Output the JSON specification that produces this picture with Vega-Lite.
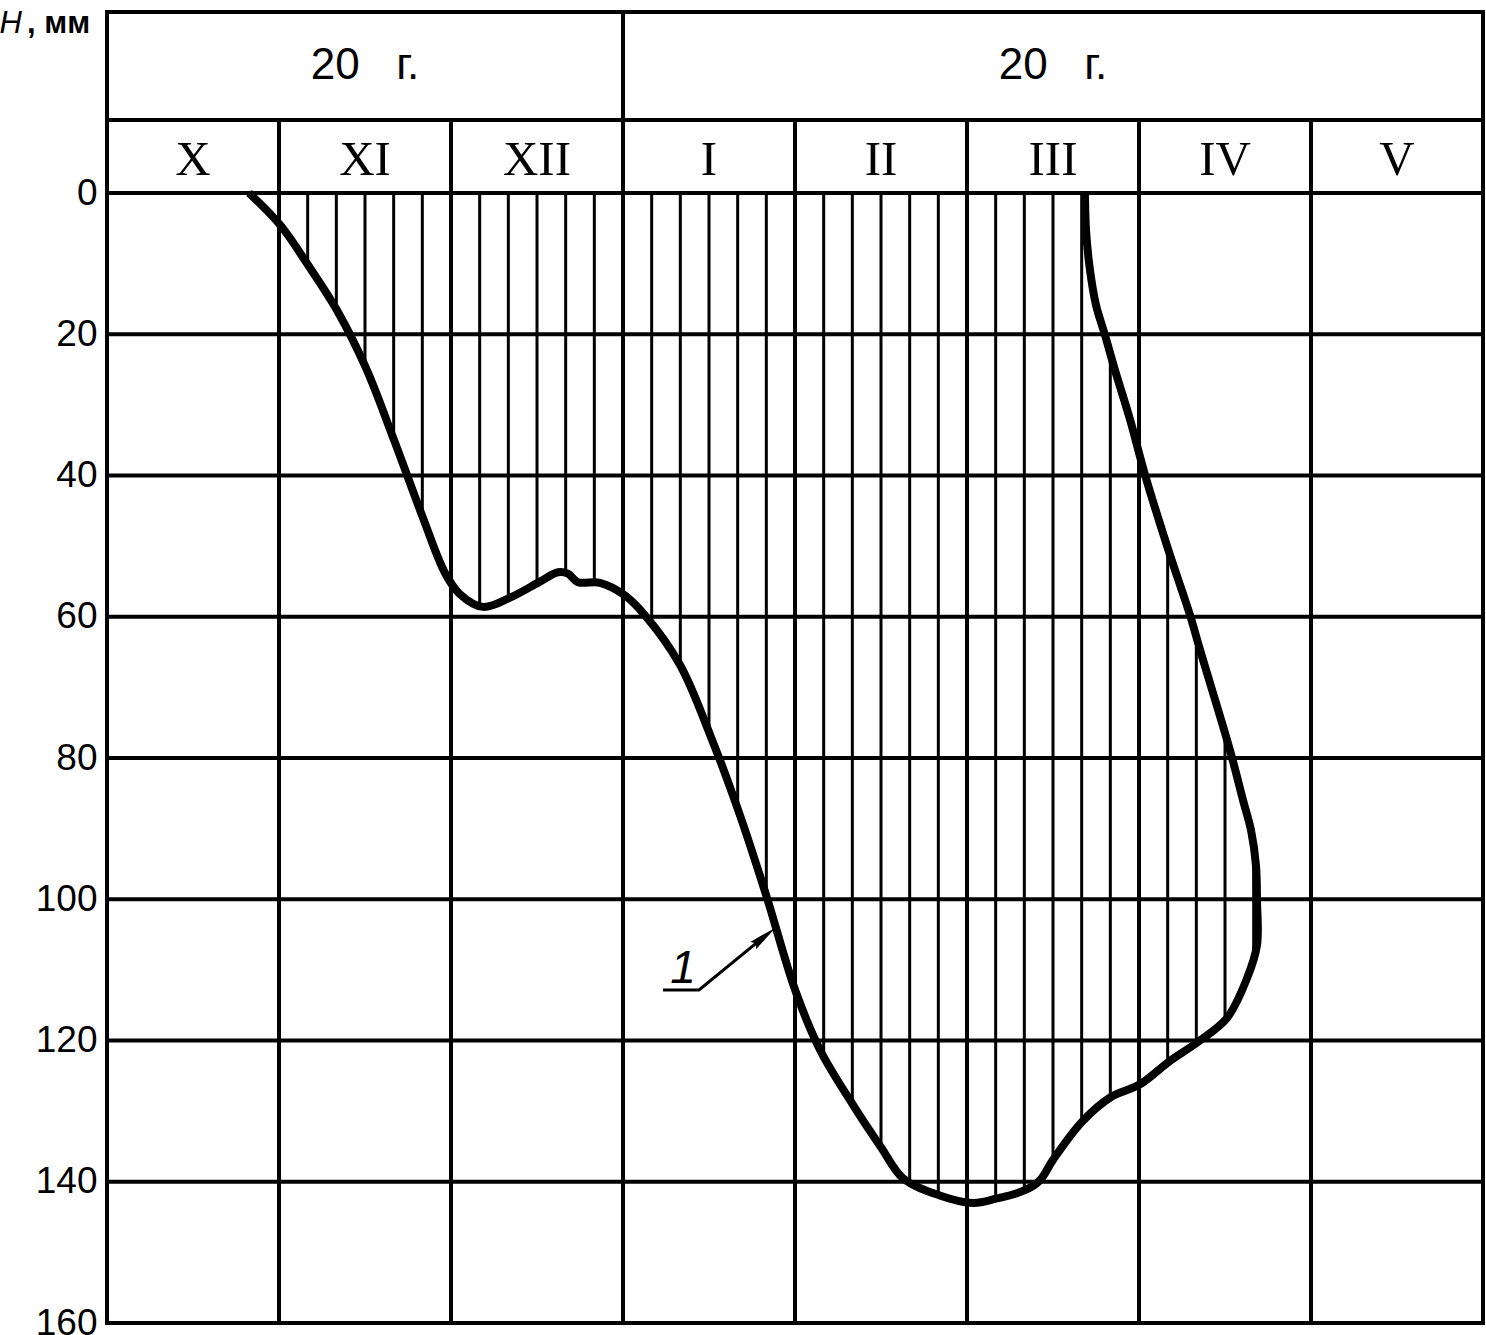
{
  "$schema": "https://vega.github.io/schema/vega-lite/v6.json",
  "width": 1376,
  "height": 1311,
  "autosize": {"type": "none"},
  "padding": {"left": 107, "top": 12, "right": 3, "bottom": 12},
  "background": "white",
  "config": {"view": {"stroke": "black", "strokeWidth": 4}},
  "encoding": {
    "x": {"field": "x", "type": "quantitative", "scale": {"domain": [0, 8], "nice": false, "zero": false}, "axis": null},
    "y": {"field": "y", "type": "quantitative", "scale": {"domain": [-25.63, 160], "nice": false, "zero": false, "reverse": true},
      "axis": {"values": [0, 20, 40, 60, 80, 100, 120, 140, 160], "title": null, "ticks": false, "tickSize": 0, "domain": false, "grid": false,
        "labelFont": "Liberation Sans", "labelFontSize": 37, "labelColor": "black", "labelPadding": 10, "labelOverlap": false, "labelBound": false, "labelFlush": false}}
  },
  "layer": [
    {
      "data": {"values": [
        {"x": 1, "x2": 1, "y": -10.34, "y2": 160},
        {"x": 2, "x2": 2, "y": -10.34, "y2": 160},
        {"x": 3, "x2": 3, "y": -25.63, "y2": 160},
        {"x": 4, "x2": 4, "y": -10.34, "y2": 160},
        {"x": 5, "x2": 5, "y": -10.34, "y2": 160},
        {"x": 6, "x2": 6, "y": -10.34, "y2": 160},
        {"x": 7, "x2": 7, "y": -10.34, "y2": 160},
        {"x": 0, "x2": 8, "y": -10.34, "y2": -10.34},
        {"x": 0, "x2": 8, "y": 0, "y2": 0},
        {"x": 0, "x2": 8, "y": 20, "y2": 20},
        {"x": 0, "x2": 8, "y": 40, "y2": 40},
        {"x": 0, "x2": 8, "y": 60, "y2": 60},
        {"x": 0, "x2": 8, "y": 80, "y2": 80},
        {"x": 0, "x2": 8, "y": 100, "y2": 100},
        {"x": 0, "x2": 8, "y": 120, "y2": 120},
        {"x": 0, "x2": 8, "y": 140, "y2": 140}
      ]},
      "mark": {"type": "rule", "stroke": "black", "strokeWidth": 4},
      "encoding": {"x2": {"field": "x2"}, "y2": {"field": "y2"}}
    },
    {
      "data": {"values": [
        {"x": 1.1667, "y": 0, "y2": 10.2},
        {"x": 1.3333, "y": 0, "y2": 16.6},
        {"x": 1.5, "y": 0, "y2": 24.8},
        {"x": 1.6667, "y": 0, "y2": 35.0},
        {"x": 1.8333, "y": 0, "y2": 46.0},
        {"x": 2.1667, "y": 0, "y2": 58.5},
        {"x": 2.3333, "y": 0, "y2": 57.5},
        {"x": 2.5, "y": 0, "y2": 55.2},
        {"x": 2.6667, "y": 0, "y2": 53.8},
        {"x": 2.8333, "y": 0, "y2": 55.1},
        {"x": 3.1667, "y": 0, "y2": 61.0},
        {"x": 3.3333, "y": 0, "y2": 67.0},
        {"x": 3.5, "y": 0, "y2": 76.4},
        {"x": 3.6667, "y": 0, "y2": 87.8},
        {"x": 3.8333, "y": 0, "y2": 99.6},
        {"x": 4.1667, "y": 0, "y2": 122.3},
        {"x": 4.3333, "y": 0, "y2": 129.0},
        {"x": 4.5, "y": 0, "y2": 135.1},
        {"x": 4.6667, "y": 0, "y2": 140.2},
        {"x": 4.8333, "y": 0, "y2": 141.9},
        {"x": 5.1667, "y": 0, "y2": 142.4},
        {"x": 5.3333, "y": 0, "y2": 141.2},
        {"x": 5.5, "y": 0, "y2": 136.9},
        {"x": 5.6667, "y": 0, "y2": 131.5},
        {"x": 5.8333, "y": 23.0, "y2": 128.0},
        {"x": 6.1667, "y": 50.8, "y2": 123.0},
        {"x": 6.3333, "y": 64.3, "y2": 120.2},
        {"x": 6.5, "y": 77.2, "y2": 117.0},
        {"x": 6.6667, "y": 95.0, "y2": 108.0}
      ]},
      "mark": {"type": "rule", "stroke": "black", "strokeWidth": 3},
      "encoding": {"y2": {"field": "y2"}}
    },
    {
      "data": {"values": [
        {"seq": 1, "x": 0.826, "y": 0},
        {"seq": 2, "x": 1.006, "y": 4.5},
        {"seq": 3, "x": 1.169, "y": 10.2},
        {"seq": 4, "x": 1.337, "y": 16.6},
        {"seq": 5, "x": 1.506, "y": 24.8},
        {"seq": 6, "x": 1.669, "y": 35.0},
        {"seq": 7, "x": 1.837, "y": 46.0},
        {"seq": 8, "x": 1.965, "y": 53.8},
        {"seq": 9, "x": 2.052, "y": 56.8},
        {"seq": 10, "x": 2.186, "y": 58.6},
        {"seq": 11, "x": 2.343, "y": 57.3},
        {"seq": 12, "x": 2.512, "y": 55.1},
        {"seq": 13, "x": 2.622, "y": 53.7},
        {"seq": 14, "x": 2.68, "y": 53.9},
        {"seq": 15, "x": 2.738, "y": 55.1},
        {"seq": 16, "x": 2.866, "y": 55.2},
        {"seq": 17, "x": 3.006, "y": 56.9},
        {"seq": 18, "x": 3.128, "y": 59.8},
        {"seq": 19, "x": 3.331, "y": 66.8},
        {"seq": 20, "x": 3.506, "y": 76.7},
        {"seq": 21, "x": 3.68, "y": 88.1},
        {"seq": 22, "x": 3.837, "y": 99.8},
        {"seq": 23, "x": 4.0, "y": 112.8},
        {"seq": 24, "x": 4.145, "y": 121.3},
        {"seq": 25, "x": 4.337, "y": 129.1},
        {"seq": 26, "x": 4.5, "y": 135.1},
        {"seq": 27, "x": 4.628, "y": 139.5},
        {"seq": 28, "x": 4.837, "y": 141.9},
        {"seq": 29, "x": 5.035, "y": 143.0},
        {"seq": 30, "x": 5.169, "y": 142.4},
        {"seq": 31, "x": 5.337, "y": 141.2},
        {"seq": 32, "x": 5.424, "y": 139.8},
        {"seq": 33, "x": 5.5, "y": 136.9},
        {"seq": 34, "x": 5.669, "y": 131.5},
        {"seq": 35, "x": 5.837, "y": 128.0},
        {"seq": 36, "x": 6.006, "y": 126.2},
        {"seq": 37, "x": 6.174, "y": 123.0},
        {"seq": 38, "x": 6.343, "y": 120.2},
        {"seq": 39, "x": 6.512, "y": 116.8},
        {"seq": 40, "x": 6.628, "y": 111.2},
        {"seq": 41, "x": 6.686, "y": 106.5},
        {"seq": 42, "x": 6.686, "y": 100.1},
        {"seq": 43, "x": 6.68, "y": 95.2},
        {"seq": 44, "x": 6.651, "y": 90.2},
        {"seq": 45, "x": 6.605, "y": 86.0},
        {"seq": 46, "x": 6.529, "y": 78.9},
        {"seq": 47, "x": 6.355, "y": 64.7},
        {"seq": 48, "x": 6.297, "y": 59.8},
        {"seq": 49, "x": 6.174, "y": 50.8},
        {"seq": 50, "x": 6.035, "y": 39.9},
        {"seq": 51, "x": 5.948, "y": 32.1},
        {"seq": 52, "x": 5.86, "y": 25.06},
        {"seq": 53, "x": 5.802, "y": 20.1},
        {"seq": 54, "x": 5.75, "y": 15.86},
        {"seq": 55, "x": 5.715, "y": 10.9},
        {"seq": 56, "x": 5.692, "y": 5.24},
        {"seq": 57, "x": 5.686, "y": 0}
      ]},
      "mark": {"type": "line", "stroke": "black", "strokeWidth": 8, "interpolate": "catmull-rom"},
      "encoding": {"order": {"field": "seq", "type": "quantitative"}}
    },
    {
      "data": {"values": [
        {"seq": 1, "x": 3.2326, "y": 112.85},
        {"seq": 2, "x": 3.4419, "y": 112.85},
        {"seq": 3, "x": 3.8227, "y": 105.27}
      ]},
      "mark": {"type": "line", "stroke": "black", "strokeWidth": 3},
      "encoding": {"order": {"field": "seq", "type": "quantitative"}}
    },
    {
      "data": {"values": [{"x": 3.8227, "y": 105.27}]},
      "mark": {"type": "point", "shape": "M0,-1L0.32,1L0,0.75L-0.32,1Z", "size": 841, "angle": 51.2, "filled": true, "fill": "black", "stroke": null, "opacity": 1}
    },
    {
      "data": {"values": [
        {"x": 1.5, "y": -16.1, "t": "20\u00a0\u00a0\u00a0г."},
        {"x": 5.5, "y": -16.1, "t": "20\u00a0\u00a0\u00a0г."}
      ]},
      "mark": {"type": "text", "font": "Liberation Sans", "fontSize": 44, "align": "center", "baseline": "alphabetic", "color": "black"},
      "encoding": {"text": {"field": "t"}}
    },
    {
      "data": {"values": [
        {"x": 0.5, "y": -2.55, "t": "X"},
        {"x": 1.5, "y": -2.55, "t": "XI"},
        {"x": 2.5, "y": -2.55, "t": "XII"},
        {"x": 3.5, "y": -2.55, "t": "I"},
        {"x": 4.5, "y": -2.55, "t": "II"},
        {"x": 5.5, "y": -2.55, "t": "III"},
        {"x": 6.5, "y": -2.55, "t": "IV"},
        {"x": 7.5, "y": -2.55, "t": "V"}
      ]},
      "mark": {"type": "text", "font": "Liberation Serif", "fontSize": 49, "align": "center", "baseline": "alphabetic", "color": "black"},
      "encoding": {"text": {"field": "t"}}
    },
    {
      "data": {"values": [{"x": 3.349, "y": 111.86, "t": "1"}]},
      "mark": {"type": "text", "font": "Liberation Sans", "fontSize": 46, "fontStyle": "italic", "align": "center", "baseline": "alphabetic", "color": "black"},
      "encoding": {"text": {"field": "t"}}
    },
    {
      "data": {"values": [{"x": -0.625, "y": -22.65, "t": "H"}]},
      "mark": {"type": "text", "font": "Liberation Sans", "fontSize": 31, "fontStyle": "italic", "align": "left", "baseline": "alphabetic", "color": "black"},
      "encoding": {"text": {"field": "t"}}
    },
    {
      "data": {"values": [{"x": -0.465, "y": -22.65, "t": ", мм"}]},
      "mark": {"type": "text", "font": "Liberation Sans", "fontSize": 31, "fontWeight": "bold", "align": "left", "baseline": "alphabetic", "color": "black"},
      "encoding": {"text": {"field": "t"}}
    }
  ]
}
